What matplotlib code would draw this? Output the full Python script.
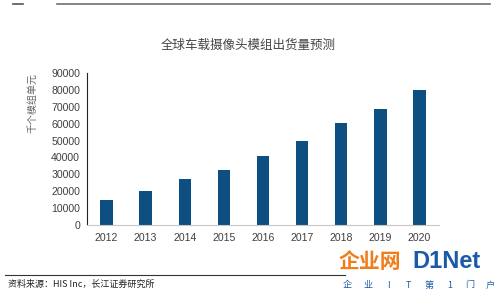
import matplotlib.pyplot as plt

plt.rcParams['font.family'] = ['Noto Sans CJK SC', 'DejaVu Sans']

# Data
years = ['2012', '2013', '2014', '2015', '2016', '2017', '2018', '2019', '2020']
shipments = [15000, 20000, 27000, 32500, 41000, 50000, 60500, 68500, 80000]
y_ticks = [0, 10000, 20000, 30000, 40000, 50000, 60000, 70000, 80000, 90000]
logo_sub = ['企', '业', 'I', 'T', '第', '1', '门', '户']

fig = plt.figure(figsize=(5, 2.94), dpi=100)
W, H = 500, 294

# axes placed in pixel terms: left 87, right 439, bottom 225, top 73
ax = fig.add_axes([87 / W, 1 - 225 / H, (439 - 87) / W, (225 - 73) / H])
ax.bar(range(len(years)), shipments, width=0.32, color='#0d4f80')
ax.set_xlim(-0.5, len(years) - 0.5)
ax.set_ylim(0, 90000)
ax.set_yticks(y_ticks)
ax.set_yticklabels([str(v) for v in y_ticks], fontfamily='Liberation Sans')
ax.set_xticks(range(len(years)))
ax.set_xticklabels(years, fontfamily='Liberation Sans')
ax.tick_params(length=0, labelsize=7.6, colors='#404040', pad=5)
ax.tick_params(axis='x', pad=6)

for side in ['top', 'right']:
    ax.spines[side].set_visible(False)
ax.spines['left'].set_color('#222222')
ax.spines['left'].set_linewidth(0.8)
ax.spines['bottom'].set_color('#c8c8c8')
ax.spines['bottom'].set_linewidth(0.8)

ax.set_ylabel('千个模组单元', fontsize=7.2, color='#666666')
ax.yaxis.set_label_coords(-0.14, 0.8)

# title
fig.text(248 / W, 1 - 45 / H, '全球车载摄像头模组出货量预测', ha='center', va='center',
         fontsize=9, color='#444444')

# decorative lines top and bottom
fig.add_artist(plt.Line2D([57 / W, 490 / W], [1 - 4 / H, 1 - 4 / H], color='#707070', lw=1.2))
fig.add_artist(plt.Line2D([13 / W, 23 / W], [1 - 4 / H, 1 - 4 / H], color='#555555', lw=1.2))
fig.add_artist(plt.Line2D([5 / W, 345 / W], [1 - 275 / H, 1 - 275 / H], color='#333333', lw=0.8))

# source note
fig.text(8 / W, 1 - 284 / H, '资料来源：HIS Inc，长江证券研究所', ha='left', va='center',
         fontsize=6.5, color='#222222')

# watermark logo
fig.text(339 / W, 1 - 261 / H, '企业网', ha='left', va='center', fontsize=15,
         fontweight='heavy', color='#f07d1a')
fig.text(412 / W, 1 - 261 / H, 'D1Net', ha='left', va='center', fontsize=17,
         fontweight='bold', color='#1a5aa8', fontfamily='Liberation Sans')
for i, ch in enumerate(logo_sub):
    fig.text((347 + i * 20.5) / W, 1 - 285 / H, ch, ha='center', va='center',
             fontsize=6.5, color='#1a5aa8')

fig.savefig('out.png', dpi=100)
